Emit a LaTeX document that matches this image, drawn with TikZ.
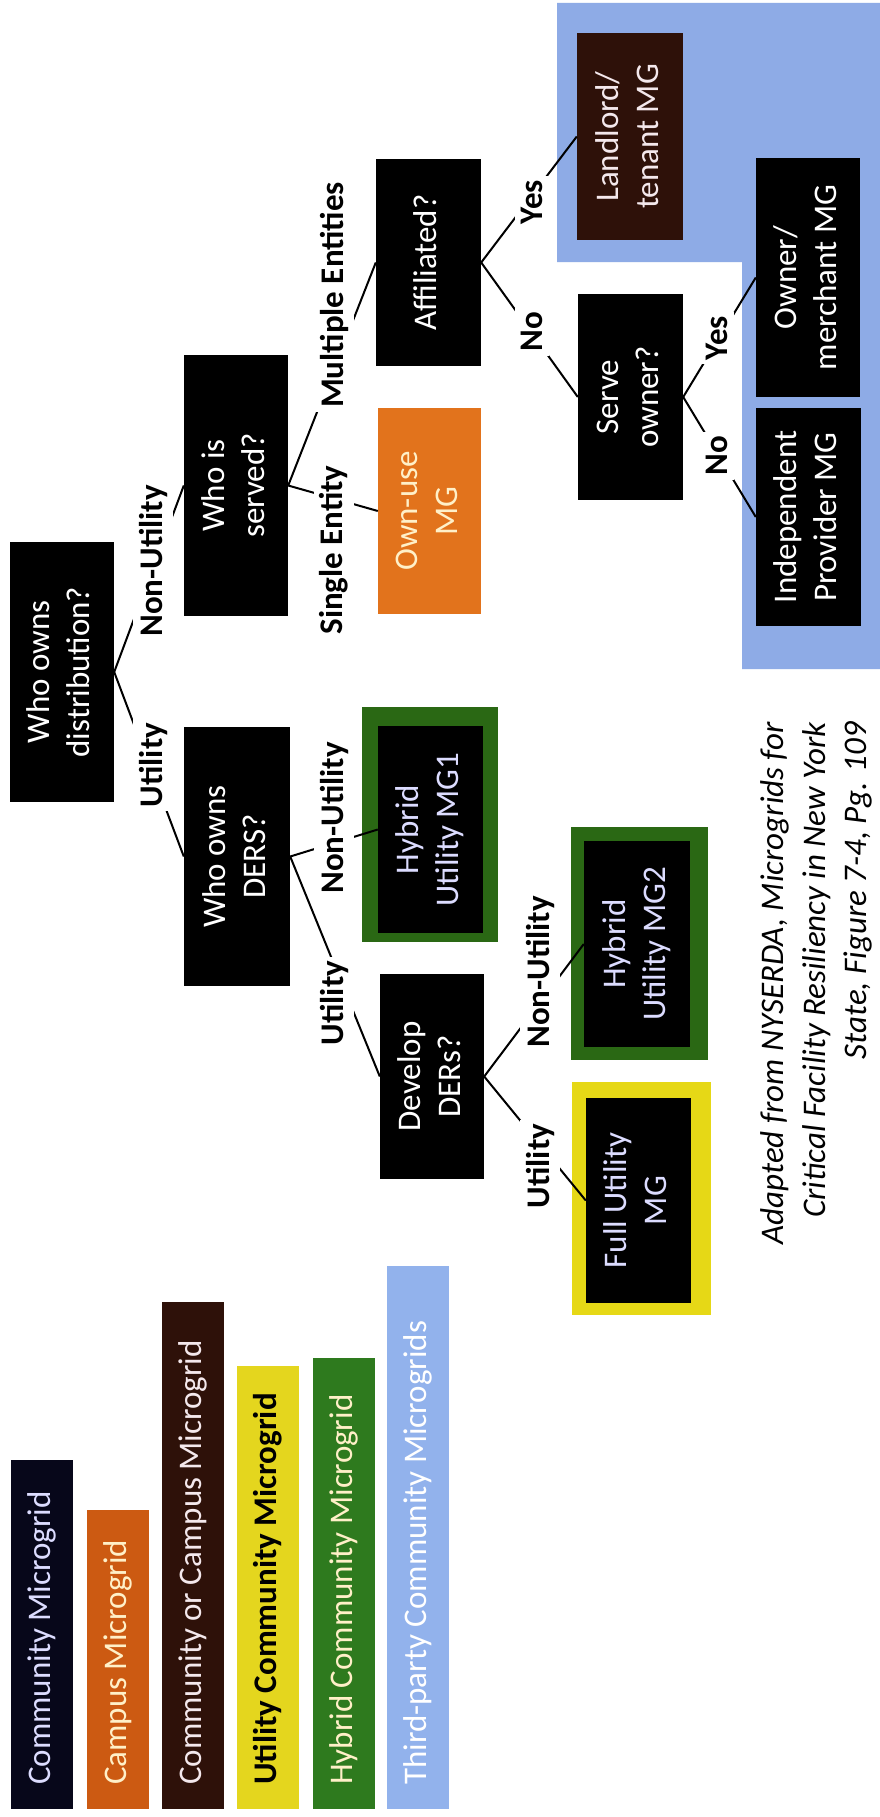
\documentclass[tikz,border=0pt]{standalone}
\usepackage{fontspec}
\setmainfont{Carlito}
\usepackage{graphicx}
\definecolor{bluereg}{HTML}{8EABE6}
\definecolor{legblue}{HTML}{92B2EC}
\definecolor{ownorange}{HTML}{E2731C}
\definecolor{camporange}{HTML}{CC5A12}
\definecolor{darkbrown}{HTML}{2E1109}
\definecolor{frgreen}{HTML}{2A6814}
\definecolor{leggreen}{HTML}{2E7A1E}
\definecolor{fryellow}{HTML}{E6D816}
\definecolor{legyellow}{HTML}{E4D61E}
\definecolor{legblack}{HTML}{07071A}
\definecolor{lavtext}{HTML}{DCDCFF}
\definecolor{creamtext}{HTML}{FFF0C8}
\definecolor{pinktext}{HTML}{F4E8EC}
\newcommand{\rtxt}[1]{\rotatebox{90}{\begin{tabular}{@{}c@{}}#1\end{tabular}}}
\begin{document}
\begin{tikzpicture}[x=1pt,y=-1pt,
  every node/.style={inner sep=0pt, font=\fontsize{33}{40}\selectfont},
  qbox/.style={fill=black, text=white, draw=none},
  frame/.style={draw=none},
  lbl/.style={fill=white, font=\fontsize{33}{40}\selectfont\bfseries, inner xsep=6pt, inner ysep=4pt},
  conn/.style={draw=black, line width=2pt},
  legbar/.style={draw=none, minimum width=62pt},
  legtxt/.style={anchor=south}
]
\useasboundingbox (0,0) rectangle (880,1817);
\fill[white] (0,0) rectangle (880,1817);

% blue region
\fill[bluereg] (557,3) -- (880,3) -- (880,669) -- (742,669) -- (742,262) -- (557,262) -- cycle;

% decision boxes
\node[qbox, minimum width=104pt, minimum height=260pt] (root) at (62,672) {\rtxt{Who owns\\distribution?}};
\node[qbox, minimum width=104pt, minimum height=261pt] (served) at (236,485.5) {\rtxt{Who is\\served?}};
\node[qbox, minimum width=106pt, minimum height=259pt] (ders) at (237,856.5) {\rtxt{Who owns\\DERS?}};
\node[qbox, minimum width=105pt, minimum height=207pt] (affil) at (428.5,262.5) {\rtxt{Affiliated?}};
\node[qbox, fill=ownorange, text=creamtext, minimum width=103pt, minimum height=206pt] (ownuse) at (429.5,511) {\rtxt{Own-use\\MG}};
\node[qbox, minimum width=104pt, minimum height=205pt] (develop) at (432,1076.5) {\rtxt{Develop\\DERs?}};
\node[qbox, fill=darkbrown, text=pinktext, minimum width=106pt, minimum height=207pt] (landlord) at (630,136.5) {\rtxt{Landlord/\\tenant MG}};
\node[qbox, minimum width=105pt, minimum height=206pt] (serve) at (630.5,397) {\rtxt{Serve\\owner?}};
\node[qbox, minimum width=104pt, minimum height=239pt] (owner) at (808,277.5) {\rtxt{Owner/\\merchant MG}};
\node[qbox, minimum width=105pt, minimum height=218pt] (indep) at (808.5,517) {\rtxt{Independent\\Provider MG}};

% framed outcome boxes
\node[frame, fill=frgreen, minimum width=136pt, minimum height=235pt] (mgonefr) at (430,824.5) {};
\node[qbox, text=lavtext, minimum width=105pt, minimum height=207pt] (mgone) at (430.5,829.5) {\rtxt{Hybrid\\Utility MG1}};
\node[frame, fill=frgreen, minimum width=137pt, minimum height=233pt] (mgtwofr) at (639.5,943.5) {};
\node[qbox, text=lavtext, minimum width=106pt, minimum height=206pt] (mgtwo) at (637,944) {\rtxt{Hybrid\\Utility MG2}};
\node[frame, fill=fryellow, minimum width=139pt, minimum height=233pt] (fullfr) at (641.5,1198.5) {};
\node[qbox, text=lavtext, minimum width=105pt, minimum height=205pt] (full) at (638.5,1200.5) {\rtxt{Full Utility\\MG}};

% connectors
\draw[conn] (root.east) -- (served.west);
\draw[conn] (root.east) -- (ders.west);
\draw[conn] (served.east) -- (affil.west);
\draw[conn] (served.east) -- (ownuse.west);
\draw[conn] (ders.east) -- (mgone.west);
\draw[conn] (ders.east) -- (develop.west);
\draw[conn] (develop.east) -- (mgtwo.west);
\draw[conn] (develop.east) -- (full.west);
\draw[conn] (affil.east) -- (landlord.west);
\draw[conn] (affil.east) -- (serve.west);
\draw[conn] (serve.east) -- (owner.west);
\draw[conn] (serve.east) -- (indep.west);

% branch labels
\node[lbl] (lnu1) at (153,561) {\rotatebox{90}{Non-Utility}};
\node[lbl] (lu1) at (153,765) {\rotatebox{90}{Utility}};
\node[lbl] (lsingle) at (334,550) {\rotatebox{90}{Single Entity}};
\node[lbl] (lmulti) at (334,295) {\rotatebox{90}{Multiple Entities}};
\node[lbl] (lnu2) at (334,818) {\rotatebox{90}{Non-Utility}};
\node[lbl] (lu2) at (334,1003) {\rotatebox{90}{Utility}};
\node[lbl] (lnu3) at (540,972) {\rotatebox{90}{Non-Utility}};
\node[lbl] (lu3) at (540,1166) {\rotatebox{90}{Utility}};
\node[lbl] (lyes1) at (532,202) {\rotatebox{90}{Yes}};
\node[lbl] (lno1) at (532,332) {\rotatebox{90}{No}};
\node[lbl] (lyes2) at (717,338) {\rotatebox{90}{Yes}};
\node[lbl] (lno2) at (717,456) {\rotatebox{90}{No}};

% caption
\node[anchor=north, font=\fontsize{33}{41.5}\selectfont\itshape] (cap) at (817,722)
  {\rotatebox{90}{\begin{tabular}{@{}r@{}}Adapted from NYSERDA, Microgrids for\\Critical Facility Resiliency in New York\\State, Figure 7-4, Pg. 109\end{tabular}}};

% legend
\node[legbar, fill=legblack, minimum height=349pt] (lg1) at (42,1634.5) {};
\node[legbar, fill=camporange, minimum height=299pt] (lg2) at (118,1659.5) {};
\node[legbar, fill=darkbrown, minimum height=507pt] (lg3) at (193,1555.5) {};
\node[legbar, fill=legyellow, minimum height=443pt] (lg4) at (268,1587.5) {};
\node[legbar, fill=leggreen, minimum height=451pt] (lg5) at (343.5,1583.5) {};
\node[legbar, fill=legblue, minimum height=543pt] (lg6) at (418,1537.5) {};
\node[legtxt, text=lavtext] (lt1) at (42,1785) {\rotatebox{90}{Community Microgrid}};
\node[legtxt, text=creamtext] (lt2) at (118,1785) {\rotatebox{90}{Campus Microgrid}};
\node[legtxt, text=pinktext] (lt3) at (193,1785) {\rotatebox{90}{Community or Campus Microgrid}};
\node[legtxt, text=black, font=\fontsize{33}{40}\selectfont\bfseries] (lt4) at (268,1785) {\rotatebox{90}{Utility Community Microgrid}};
\node[legtxt, text=creamtext] (lt5) at (343.5,1785) {\rotatebox{90}{Hybrid Community Microgrid}};
\node[legtxt, text=white] (lt6) at (418,1785) {\rotatebox{90}{Third-party Community Microgrids}};
\end{tikzpicture}
\end{document}
